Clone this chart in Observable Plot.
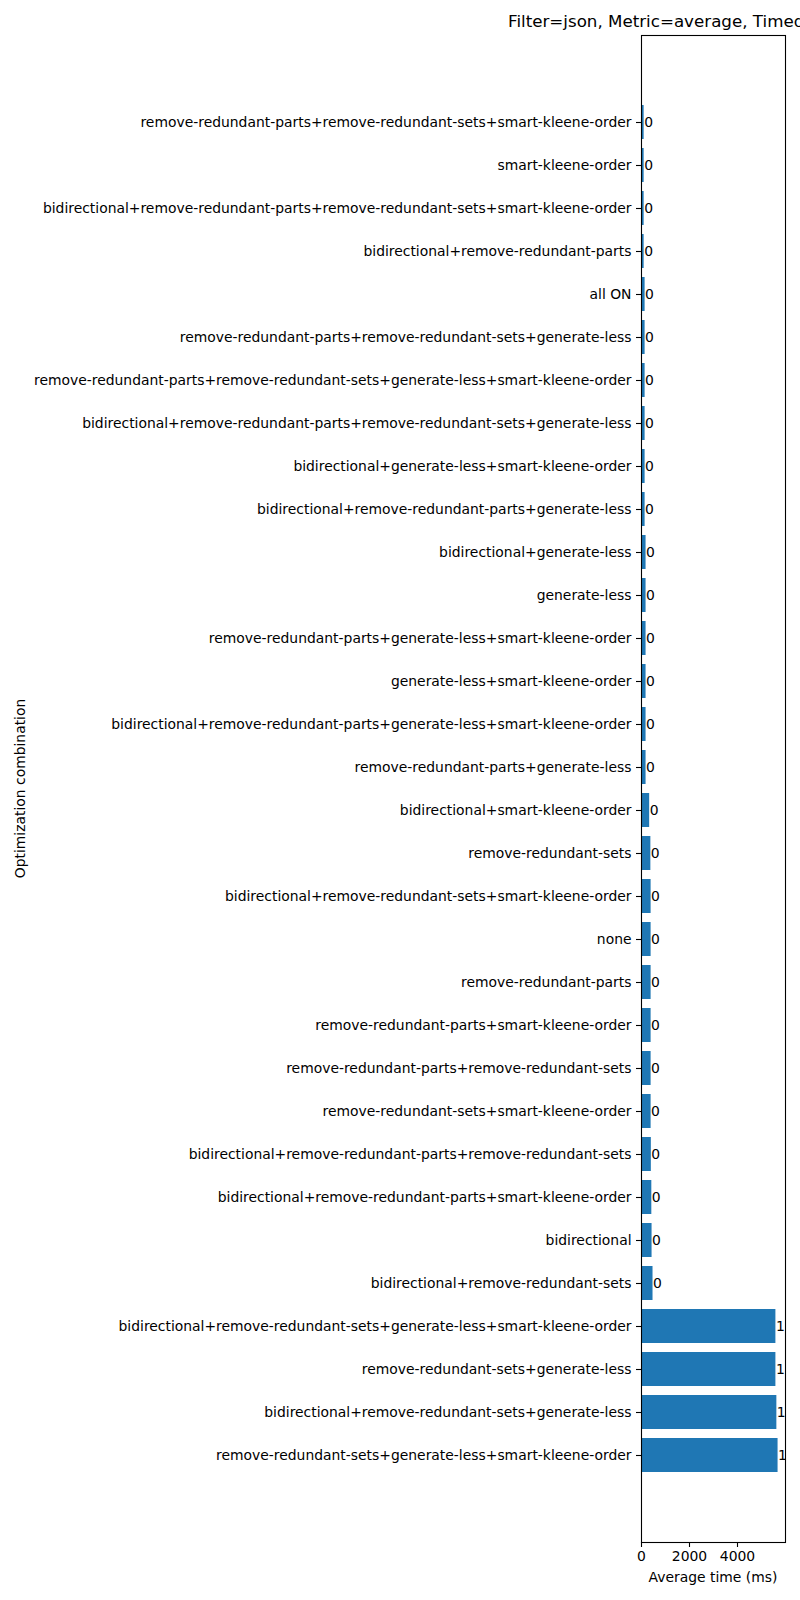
<!DOCTYPE html>
<html>
<head>
<meta charset="utf-8">
<script src="https://cdn.jsdelivr.net/npm/d3@7"></script>
<script src="https://cdn.jsdelivr.net/npm/@observablehq/plot@0.6"></script>
<style>
  html, body { margin: 0; padding: 0; background: white; overflow: hidden; width: 800px; }
  svg { overflow: hidden; }
</style>
</head>
<body>
<div id="chart"></div>
<script>
// Categories, top to bottom
const combos = [
  "remove-redundant-parts+remove-redundant-sets+smart-kleene-order",
  "smart-kleene-order",
  "bidirectional+remove-redundant-parts+remove-redundant-sets+smart-kleene-order",
  "bidirectional+remove-redundant-parts",
  "all ON",
  "remove-redundant-parts+remove-redundant-sets+generate-less",
  "remove-redundant-parts+remove-redundant-sets+generate-less+smart-kleene-order",
  "bidirectional+remove-redundant-parts+remove-redundant-sets+generate-less",
  "bidirectional+generate-less+smart-kleene-order",
  "bidirectional+remove-redundant-parts+generate-less",
  "bidirectional+generate-less",
  "generate-less",
  "remove-redundant-parts+generate-less+smart-kleene-order",
  "generate-less+smart-kleene-order",
  "bidirectional+remove-redundant-parts+generate-less+smart-kleene-order",
  "remove-redundant-parts+generate-less",
  "bidirectional+smart-kleene-order",
  "remove-redundant-sets",
  "bidirectional+remove-redundant-sets+smart-kleene-order",
  "none",
  "remove-redundant-parts",
  "remove-redundant-parts+smart-kleene-order",
  "remove-redundant-parts+remove-redundant-sets",
  "remove-redundant-sets+smart-kleene-order",
  "bidirectional+remove-redundant-parts+remove-redundant-sets",
  "bidirectional+remove-redundant-parts+smart-kleene-order",
  "bidirectional",
  "bidirectional+remove-redundant-sets",
  "bidirectional+remove-redundant-sets+generate-less+smart-kleene-order",
  "remove-redundant-sets+generate-less",
  "bidirectional+remove-redundant-sets+generate-less",
  "remove-redundant-sets+generate-less+smart-kleene-order"
];
// Average time (ms)
const avgTime = [
  110, 110, 110, 110, 150, 150, 150, 150,
  150, 150, 190, 190, 190, 190, 190, 190,
  340, 390, 400, 400, 400, 400, 400, 400,
  410, 430, 440, 480, 5600, 5600, 5640, 5690
];
// Bar annotations as printed
const barLabels = [
  "0","0","0","0","0","0","0","0",
  "0","0","0","0","0","0","0","0",
  "0","0","0","0","0","0","0","0",
  "0","0","0","0","1","1","1","1"
];
const xTicks = [0, 2000, 4000];
const titleText = "Filter=json, Metric=average, Timed out=excluded";
const xLabel = "Average time (ms)";
const yLabel = "Optimization combination";

const data = combos.map((c, i) => ({combo: c, value: avgTime[i], label: barLabels[i]}));

const W = 800, H = 1600;
const mL = 641, mR = 15, mT = 35, mB = 58;
const FONT = "DejaVu Sans, sans-serif";
const FS = 13.9;

const chart = Plot.plot({
  width: W,
  height: H,
  marginLeft: mL,
  marginRight: mR,
  marginTop: mT,
  marginBottom: mB,
  style: {fontFamily: FONT, fontSize: FS + "px", color: "black", background: "white"},
  x: {domain: [0, 6000], label: null},
  y: {domain: combos, paddingInner: 0.2, paddingOuter: 1.6, label: null},
  marks: [
    Plot.barX(data, {x: "value", y: "combo", fill: "#1f77b4"}),
    Plot.text(data, {x: "value", y: "combo", text: "label", textAnchor: "start", dx: 0, fontSize: FS, fill: "black"}),
    Plot.frame({stroke: "black", strokeWidth: 1.1}),
    Plot.axisY({tickSize: 5, tickPadding: 5, fontSize: FS, label: null, stroke: "black", strokeWidth: 1.1}),
    Plot.axisX({ticks: xTicks, tickFormat: d3.format("d"), tickSize: 5, tickPadding: 4, fontSize: FS, label: null, stroke: "black", strokeWidth: 1.1})
  ]
});

const svg = d3.select(chart);
svg.append("text")
  .attr("x", 508).attr("y", 27)
  .attr("text-anchor", "start")
  .attr("font-family", FONT).attr("font-size", 16.7)
  .attr("fill", "black")
  .text(titleText);
svg.append("text")
  .attr("x", (mL + W - mR) / 2).attr("y", 1582)
  .attr("text-anchor", "middle")
  .attr("font-family", FONT).attr("font-size", FS)
  .attr("fill", "black")
  .text(xLabel);
svg.append("text")
  .attr("transform", `translate(25, ${(mT + H - mB) / 2}) rotate(-90)`)
  .attr("text-anchor", "middle")
  .attr("font-family", FONT).attr("font-size", FS)
  .attr("fill", "black")
  .text(yLabel);

document.getElementById("chart").appendChild(chart);
</script>
</body>
</html>
